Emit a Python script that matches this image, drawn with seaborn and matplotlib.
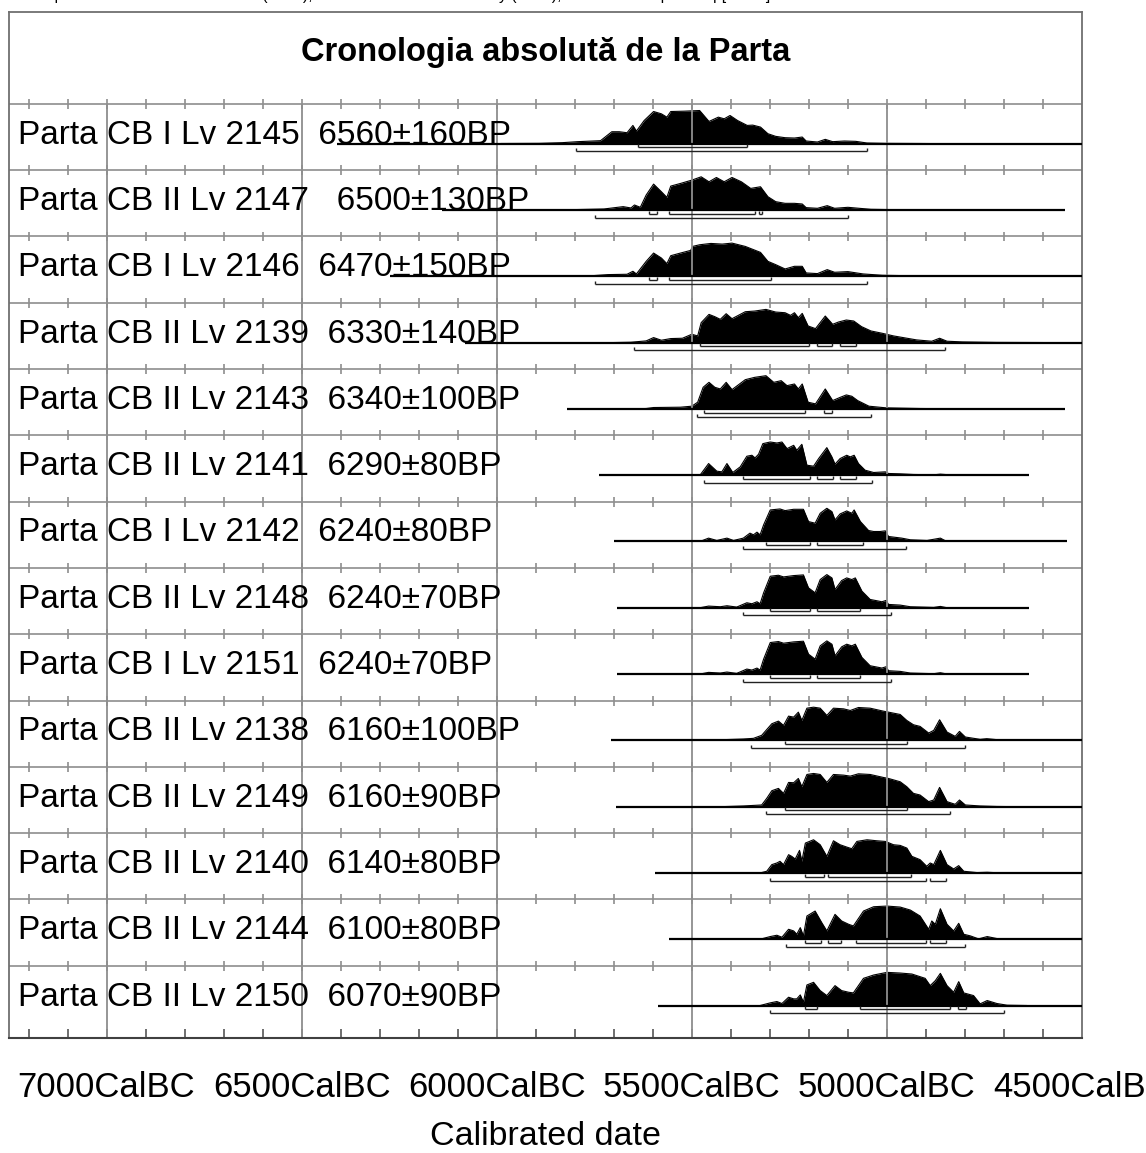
import numpy as np
import pandas as pd
import seaborn as sns
import matplotlib.pyplot as plt
from matplotlib.transforms import blended_transform_factory

sns.set_theme(style="white")
plt.rcParams['font.family'] = ['Liberation Sans', 'DejaVu Sans']

##########################################################################################

title = "Cronologia absolută de la Parta"
header = ("Atmospheric data from Reimer et al (2004);OxCal v3.10 Bronk Ramsey (2005); "
          "cub r:5 sd:12 prob usp[chron]")

labels = ["Parta CB I Lv 2145  6560±160BP", "Parta CB II Lv 2147   6500±130BP",
          "Parta CB I Lv 2146  6470±150BP", "Parta CB II Lv 2139  6330±140BP",
          "Parta CB II Lv 2143  6340±100BP", "Parta CB II Lv 2141  6290±80BP",
          "Parta CB I Lv 2142  6240±80BP", "Parta CB II Lv 2148  6240±70BP",
          "Parta CB I Lv 2151  6240±70BP", "Parta CB II Lv 2138  6160±100BP",
          "Parta CB II Lv 2149  6160±90BP", "Parta CB II Lv 2140  6140±80BP",
          "Parta CB II Lv 2144  6100±80BP", "Parta CB II Lv 2150  6070±90BP"]

major_years = [7000, 6500, 6000, 5500, 5000, 4500]
tick_labels = [f"{y}CalBC" for y in major_years]
minor_years = list(range(7200, 4500, -100))

# extent of the plotted calibration line for each sample (cal BC)
line_from = [6410, 6141, 6273, 6081, 5820, 5739, 5699, 5691, 5691, 5707, 5695, 5594, 5558, 5587]
line_to = [4500, 4544, 4500, 4500, 4544, 4637, 4538, 4637, 4637, 4500, 4500, 4500, 4500, 4500]

# probability distributions (year cal BC, relative probability)
yr_2145 = [5990, 5891, 5832, 5793, 5734, 5705, 5686, 5666, 5651, 5642, 5622, 5598, 5578, 5564, 5554,
           5520, 5480, 5456, 5432, 5417, 5402, 5383, 5358, 5344, 5324, 5305, 5285, 5261, 5237, 5217,
           5207, 5178, 5158, 5139, 5109, 5080, 5051, 5002, 4914, 4850]
p_2145 = [0.005, 0.01, 0.03, 0.06, 0.09, 0.36, 0.36, 0.33, 0.55, 0.38, 0.7, 0.97, 0.9, 0.8, 0.97,
          0.98, 1.0, 0.67, 0.8, 0.75, 0.85, 0.7, 0.55, 0.56, 0.5, 0.3, 0.22, 0.18, 0.17, 0.2,
          0.08, 0.05, 0.13, 0.06, 0.08, 0.07, 0.02, 0.01, 0.005, 0.0]

yr_2147 = [5842, 5725, 5676, 5656, 5647, 5632, 5617, 5598, 5578, 5564, 5554, 5529, 5500, 5476, 5456,
           5437, 5417, 5397, 5373, 5349, 5324, 5305, 5285, 5261, 5237, 5217, 5207, 5178, 5153, 5134,
           5100, 5071, 5041, 4963, 4900]
p_2147 = [0.0, 0.03, 0.1, 0.06, 0.15, 0.08, 0.45, 0.78, 0.55, 0.38, 0.72, 0.8, 0.9, 1.0, 0.85,
          0.98, 0.85, 0.98, 0.85, 0.65, 0.7, 0.4, 0.25, 0.2, 0.2, 0.18, 0.07, 0.05, 0.13, 0.05,
          0.08, 0.05, 0.02, 0.005, 0.0]

yr_2146 = [5800, 5764, 5715, 5666, 5651, 5642, 5617, 5598, 5578, 5564, 5554, 5529, 5503, 5498, 5480,
           5451, 5422, 5397, 5363, 5324, 5305, 5285, 5261, 5237, 5217, 5207, 5178, 5153, 5134, 5100,
           5061, 5012, 4914, 4800]
p_2146 = [0.0, 0.01, 0.05, 0.06, 0.15, 0.07, 0.45, 0.7, 0.55, 0.38, 0.62, 0.7, 0.78, 0.9, 0.95,
          0.99, 0.97, 1.0, 0.9, 0.72, 0.45, 0.35, 0.22, 0.3, 0.3, 0.1, 0.08, 0.2, 0.12, 0.14,
          0.07, 0.03, 0.01, 0.0]

yr_2139 = [5700, 5656, 5617, 5598, 5578, 5554, 5524, 5500, 5485, 5476, 5456, 5441, 5427, 5412, 5397,
           5363, 5339, 5310, 5285, 5261, 5247, 5237, 5227, 5217, 5202, 5183, 5158, 5139, 5124, 5104,
           5085, 5065, 5041, 5012, 4983, 4924, 4885, 4865, 4846, 4807, 4719, 4600]
p_2139 = [0.0, 0.01, 0.05, 0.15, 0.07, 0.12, 0.13, 0.25, 0.2, 0.6, 0.85, 0.78, 0.7, 0.87, 0.72,
          0.93, 0.95, 1.0, 0.92, 0.9, 0.82, 0.9, 0.75, 0.88, 0.5, 0.42, 0.8, 0.55, 0.62, 0.68,
          0.65, 0.48, 0.35, 0.28, 0.2, 0.08, 0.04, 0.13, 0.04, 0.02, 0.005, 0.0]

yr_2143 = [5650, 5617, 5598, 5529, 5500, 5485, 5471, 5456, 5441, 5427, 5412, 5397, 5363, 5339, 5310,
           5290, 5271, 5256, 5237, 5227, 5217, 5202, 5183, 5158, 5139, 5119, 5104, 5090, 5075, 5046,
           5002, 4914, 4800]
p_2143 = [0.0, 0.01, 0.04, 0.05, 0.08, 0.2, 0.65, 0.8, 0.65, 0.6, 0.8, 0.58, 0.88, 0.95, 1.0,
          0.8, 0.85, 0.7, 0.75, 0.6, 0.75, 0.2, 0.15, 0.6, 0.25, 0.35, 0.42, 0.38, 0.25, 0.08,
          0.03, 0.01, 0.0]

yr_2141 = [5479, 5457, 5436, 5423, 5410, 5395, 5376, 5359, 5346, 5338, 5329, 5318, 5299, 5282, 5269,
           5256, 5239, 5231, 5218, 5205, 5188, 5175, 5154, 5141, 5133, 5120, 5103, 5094, 5084, 5073,
           5056, 5034, 5004, 4996, 4966, 4932, 4880, 4863, 4829]
p_2141 = [0.0, 0.35, 0.12, 0.1, 0.35, 0.08, 0.25, 0.57, 0.6, 0.52, 0.63, 0.95, 1.0, 0.97, 1.0,
          0.8, 0.9, 0.75, 0.93, 0.3, 0.27, 0.5, 0.83, 0.55, 0.33, 0.5, 0.6, 0.55, 0.6, 0.35,
          0.15, 0.08, 0.1, 0.05, 0.04, 0.02, 0.01, 0.03, 0.0]

yr_2142 = [5479, 5457, 5436, 5410, 5393, 5368, 5351, 5342, 5333, 5325, 5316, 5299, 5274, 5261, 5239,
           5214, 5201, 5184, 5171, 5154, 5141, 5133, 5120, 5103, 5090, 5084, 5068, 5047, 5034, 5017,
           5004, 4996, 4962, 4940, 4897, 4863, 4850, 4803]
p_2142 = [0.0, 0.1, 0.03, 0.1, 0.03, 0.1, 0.25, 0.2, 0.28, 0.2, 0.5, 0.95, 0.98, 0.93, 0.97,
          0.97, 0.6, 0.55, 0.85, 1.0, 0.9, 0.65, 0.83, 0.92, 0.85, 0.95, 0.6, 0.33, 0.3, 0.3,
          0.32, 0.15, 0.1, 0.05, 0.03, 0.1, 0.02, 0.0]

yr_2148 = [5479, 5457, 5427, 5410, 5385, 5359, 5346, 5333, 5325, 5316, 5299, 5278, 5265, 5239, 5214,
           5201, 5184, 5171, 5154, 5141, 5133, 5116, 5103, 5090, 5081, 5064, 5043, 5021, 5013, 5002,
           4996, 4966, 4940, 4880, 4863, 4846]
p_2148 = [0.0, 0.05, 0.03, 0.06, 0.02, 0.15, 0.12, 0.18, 0.12, 0.45, 0.95, 0.98, 0.93, 0.97, 0.99,
          0.6, 0.45, 0.85, 1.0, 0.9, 0.55, 0.82, 0.9, 0.85, 0.9, 0.5, 0.25, 0.2, 0.18, 0.22,
          0.1, 0.08, 0.03, 0.01, 0.04, 0.0]

yr_2151 = [5479, 5457, 5427, 5410, 5385, 5359, 5346, 5333, 5325, 5316, 5299, 5278, 5265, 5239, 5214,
           5201, 5184, 5171, 5154, 5141, 5133, 5116, 5103, 5090, 5081, 5064, 5043, 5021, 5013, 5002,
           4996, 4966, 4940, 4880, 4863, 4846]
p_2151 = [0.0, 0.05, 0.03, 0.06, 0.02, 0.15, 0.12, 0.18, 0.12, 0.45, 0.95, 0.98, 0.93, 0.97, 0.99,
          0.6, 0.45, 0.85, 1.0, 0.9, 0.55, 0.82, 0.9, 0.85, 0.9, 0.5, 0.25, 0.2, 0.18, 0.22,
          0.1, 0.08, 0.03, 0.01, 0.04, 0.0]

yr_2138 = [5500, 5487, 5462, 5419, 5368, 5342, 5321, 5295, 5278, 5265, 5252, 5239, 5227, 5218, 5205,
           5188, 5171, 5154, 5137, 5111, 5094, 5073, 5043, 5009, 4996, 4966, 4949, 4932, 4915, 4893,
           4880, 4865, 4846, 4825, 4814, 4799, 4761, 4744, 4709, 4633]
p_2138 = [0.0, 0.01, 0.02, 0.02, 0.04, 0.06, 0.15, 0.5, 0.58, 0.45, 0.73, 0.7, 0.85, 0.6, 0.97,
          1.0, 0.97, 0.75, 0.97, 0.95, 0.9, 0.99, 0.97, 0.88, 0.85, 0.78, 0.6, 0.47, 0.42, 0.22,
          0.3, 0.62, 0.25, 0.12, 0.27, 0.1, 0.03, 0.05, 0.01, 0.0]

yr_2149 = [5420, 5368, 5321, 5308, 5295, 5278, 5265, 5252, 5239, 5227, 5218, 5205, 5188, 5171, 5154,
           5137, 5111, 5094, 5073, 5043, 5009, 4996, 4966, 4949, 4932, 4915, 4893, 4880, 4865, 4846,
           4825, 4814, 4799, 4761, 4718, 4680]
p_2149 = [0.0, 0.02, 0.05, 0.25, 0.48, 0.55, 0.4, 0.73, 0.72, 0.85, 0.6, 0.97, 1.0, 0.97, 0.73,
          0.97, 0.95, 0.92, 0.99, 0.97, 0.88, 0.85, 0.75, 0.6, 0.4, 0.35, 0.15, 0.2, 0.58, 0.15,
          0.07, 0.2, 0.05, 0.02, 0.005, 0.0]

yr_2140 = [5325, 5308, 5295, 5282, 5274, 5265, 5252, 5244, 5235, 5224, 5218, 5209, 5188, 5171, 5154,
           5137, 5120, 5103, 5090, 5077, 5051, 5026, 5004, 4983, 4966, 4949, 4936, 4915, 4898, 4889,
           4880, 4863, 4846, 4829, 4816, 4803, 4769, 4743, 4709]
p_2140 = [0.0, 0.05, 0.25, 0.3, 0.35, 0.25, 0.55, 0.5, 0.42, 0.68, 0.35, 0.9, 1.0, 0.85, 0.5,
          0.97, 0.85, 0.78, 0.73, 0.95, 1.0, 0.97, 0.95, 0.85, 0.83, 0.75, 0.5, 0.4, 0.2, 0.3,
          0.25, 0.68, 0.25, 0.12, 0.22, 0.05, 0.01, 0.02, 0.0]

yr_2144 = [5325, 5299, 5282, 5269, 5252, 5239, 5231, 5222, 5214, 5205, 5184, 5167, 5154, 5133, 5116,
           5098, 5086, 5060, 5034, 5000, 4966, 4940, 4915, 4893, 4885, 4876, 4863, 4846, 4829, 4816,
           4803, 4786, 4765, 4743, 4718, 4667]
p_2144 = [0.0, 0.08, 0.12, 0.06, 0.3, 0.25, 0.15, 0.35, 0.1, 0.7, 0.85, 0.5, 0.25, 0.75, 0.55,
          0.45, 0.4, 0.85, 0.98, 1.0, 0.97, 0.88, 0.7, 0.3, 0.55, 0.45, 0.92, 0.45, 0.25, 0.48,
          0.15, 0.1, 0.01, 0.08, 0.02, 0.0]

yr_2150 = [5325, 5299, 5282, 5269, 5252, 5239, 5231, 5222, 5214, 5205, 5188, 5171, 5154, 5133, 5116,
           5098, 5086, 5060, 5034, 5000, 4966, 4936, 4902, 4889, 4876, 4863, 4846, 4829, 4816, 4803,
           4778, 4761, 4743, 4718, 4692, 4641]
p_2150 = [0.0, 0.08, 0.12, 0.06, 0.25, 0.2, 0.2, 0.32, 0.1, 0.62, 0.7, 0.45, 0.3, 0.6, 0.45,
          0.4, 0.38, 0.82, 0.92, 1.0, 0.98, 0.95, 0.82, 0.6, 0.75, 0.97, 0.6, 0.4, 0.72, 0.38,
          0.3, 0.05, 0.15, 0.06, 0.01, 0.0]

# 68.2% and 95.4% highest probability ranges (cal BC)
range68 = [[(5639, 5358)],
           [(5609, 5588), (5559, 5339), (5329, 5319)],
           [(5609, 5588), (5559, 5298)],
           [(5479, 5199), (5180, 5141), (5119, 5080)],
           [(5469, 5210), (5160, 5141)],
           [(5369, 5198), (5180, 5139), (5120, 5079)],
           [(5309, 5198), (5180, 5060)],
           [(5299, 5198), (5180, 5068)],
           [(5299, 5198), (5180, 5068)],
           [(5260, 4949)],
           [(5260, 4949)],
           [(5209, 5160), (5150, 4938)],
           [(5209, 5168), (5150, 5118), (5080, 4900), (4889, 4849)],
           [(5209, 5179), (5070, 4839), (4819, 4798)]]
range95 = [[(5798, 5051)],
           [(5747, 5100)],
           [(5747, 5051)],
           [(5648, 4851)],
           [(5488, 5041)],
           [(5468, 5039)],
           [(5369, 4950)],
           [(5369, 4989)],
           [(5369, 4989)],
           [(5349, 4799)],
           [(5310, 4839)],
           [(5299, 4900), (4889, 4849)],
           [(5259, 4799)],
           [(5299, 4699)]]

curves = [(yr_2145, p_2145), (yr_2147, p_2147), (yr_2146, p_2146), (yr_2139, p_2139),
          (yr_2143, p_2143), (yr_2141, p_2141), (yr_2142, p_2142), (yr_2148, p_2148),
          (yr_2151, p_2151), (yr_2138, p_2138), (yr_2149, p_2149), (yr_2140, p_2140),
          (yr_2144, p_2144), (yr_2150, p_2150)]

##########################################################################################

# layout in row units (one row = distance between two grid lines)
BASE = 0.6       # baseline below the row's grid line
HEIGHT = 0.5     # height of a normalised distribution
Y_TOP, Y_BOT = -1.386, 14.09
X_LEFT, X_RIGHT = 7250, 4500
grid_c = '#8e8e8e'

frames = []
for i, (yrs, prb) in enumerate(curves):
    frames.append(pd.DataFrame({'year': yrs, 'prob': prb, 'row': i}))
df = pd.concat(frames, ignore_index=True)
df['base'] = df['row'] + BASE
df['top'] = df['base'] - HEIGHT * df['prob']

fig = plt.figure(figsize=(11.46, 11.53), dpi=100)
ax = fig.add_axes([9 / 1146, 115 / 1153, 1073 / 1146, 1026 / 1153])
ax_y = blended_transform_factory(ax.transAxes, ax.transData)

n = len(labels)
# grid lines and ticks
ax.hlines(range(n), X_LEFT, X_RIGHT, color=grid_c, lw=1.2, zorder=1)
for i in range(n):
    ax.vlines(minor_years, i - 0.075, i + 0.075, color=grid_c, lw=1.2, zorder=1)
ax.vlines(major_years[:-1], 0, Y_BOT, color=grid_c, lw=1.3, zorder=2.5)
ax.vlines(minor_years, Y_BOT - 0.14, Y_BOT, color='#555555', lw=1.2, zorder=1)

# distributions
for i, sub in df.groupby('row'):
    ax.fill_between(sub['year'], sub['base'], sub['top'], color='black', lw=0, zorder=2)
sns.lineplot(data=df, x='year', y='top', units='row', estimator=None, sort=False,
             color='black', lw=0.8, ax=ax, zorder=2)

# baselines
ax.hlines([i + BASE for i in range(n)], line_from, line_to, color='black', lw=1.6, zorder=3)

# probability ranges
for i in range(n):
    for off, ranges in ((0.056, range68[i]), (0.116, range95[i])):
        yy = i + BASE + off
        for a, b in ranges:
            ax.hlines(yy, a, b, color='#222222', lw=1.0, zorder=3)
            ax.vlines([a, b], yy - 0.045, yy, color='#222222', lw=1.0, zorder=3)

# labels
for i, lab in enumerate(labels):
    ax.text(0.0084, i + BASE, lab, transform=ax_y, va='baseline', ha='left',
            fontsize=24, color='black', zorder=4)
ax.text(0.5, -0.77, title, transform=ax_y, ha='center', va='center',
        fontsize=23.5, fontweight='bold', color='black')
# program header, almost entirely above the top edge as in the source image
fig.text(10 / 1146, 1.0, header, ha='left', va='baseline', fontsize=11.3, color='black')

ax.set_xlim(X_LEFT, X_RIGHT)
ax.set_ylim(Y_BOT, Y_TOP)
ax.set_yticks([])
ax.set_ylabel('')
ax.set_xticks(major_years, labels=tick_labels)
ax.tick_params(axis='x', length=0, pad=24, labelsize=25, colors='black')
ax.set_xlabel('Calibrated date', fontsize=24.5, labelpad=12, color='black')
for side in ['left', 'right', 'top']:
    ax.spines[side].set_color('#707070')
    ax.spines[side].set_linewidth(1.3)
ax.spines['bottom'].set_color('#404040')
ax.spines['bottom'].set_linewidth(1.5)

plt.savefig('out.png', dpi=100)
